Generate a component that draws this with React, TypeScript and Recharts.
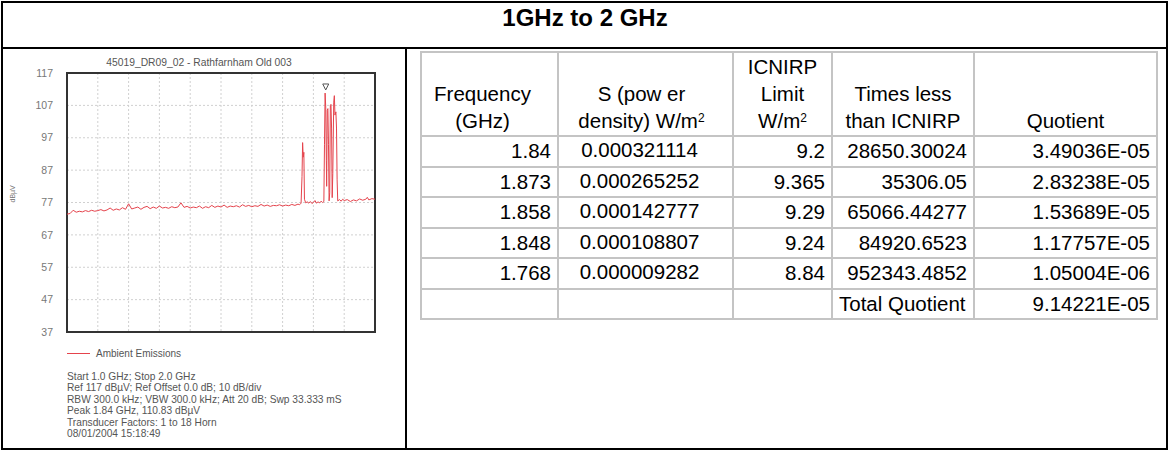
import React from 'react';
import { ComposedChart, Line, Scatter, XAxis, YAxis, CartesianGrid, ReferenceArea, Legend } from 'recharts';

// ---- Spectrum trace (GHz, dBµV) ----
const traceFreq = [
  1.00, 1.01, 1.02, 1.03, 1.04, 1.05, 1.06, 1.07, 1.08, 1.09,
  1.10, 1.11, 1.12, 1.13, 1.14, 1.15, 1.16, 1.17, 1.18, 1.19,
  1.20, 1.21, 1.22, 1.23, 1.24, 1.25, 1.26, 1.27, 1.28, 1.29,
  1.30, 1.31, 1.32, 1.33, 1.34, 1.35, 1.36, 1.37, 1.38, 1.39,
  1.40, 1.41, 1.42, 1.43, 1.44, 1.45, 1.46, 1.47, 1.48, 1.49,
  1.50, 1.51, 1.52, 1.53, 1.54, 1.55, 1.56, 1.57, 1.58, 1.59,
  1.60, 1.61, 1.62, 1.63, 1.64, 1.65, 1.66, 1.67, 1.68, 1.69,
  1.70, 1.71, 1.72, 1.73, 1.74, 1.75, 1.755, 1.76, 1.763, 1.765,
  1.767, 1.769, 1.771, 1.775, 1.78, 1.785, 1.79, 1.795, 1.80, 1.805,
  1.81, 1.815, 1.82, 1.825, 1.83, 1.834, 1.836, 1.838, 1.84, 1.842,
  1.843, 1.845, 1.847, 1.849, 1.851, 1.853, 1.855, 1.857, 1.859, 1.861,
  1.863, 1.866, 1.868, 1.87, 1.873, 1.875, 1.877, 1.879, 1.885, 1.89,
  1.895, 1.90, 1.91, 1.92, 1.93, 1.94, 1.95, 1.96, 1.97, 1.975,
  1.98, 1.99, 2.00,
];
const traceLevel = [
  73.4, 73.6, 74.6, 74.0, 74.3, 74.1, 74.5, 74.2, 74.6, 74.3,
  74.5, 74.8, 74.4, 74.7, 75.3, 74.6, 75.0, 74.7, 75.4, 74.9,
  76.6, 75.0, 75.3, 75.6, 74.9, 75.5, 75.8, 75.1, 75.6, 75.2,
  75.9, 75.3, 75.5, 75.2, 75.7, 75.4, 75.6, 76.9, 75.5, 75.8,
  75.3, 75.6, 75.4, 75.9, 75.2, 75.7, 75.4, 76.1, 75.5, 75.9,
  75.6, 76.2, 75.5, 75.9, 75.7, 76.0, 75.6, 76.3, 75.8, 76.1,
  75.7, 76.0, 75.8, 76.4, 75.9, 76.2, 75.8, 76.1, 76.0, 76.3,
  75.9, 76.2, 76.0, 76.4, 76.1, 76.5, 76.3, 76.8, 85.0, 95.5,
  91.0, 92.5, 78.0, 76.9, 77.2, 76.8, 77.3, 76.7, 77.0, 77.6,
  76.8, 77.2, 76.9, 77.4, 77.0, 77.3, 95.0, 110.8, 106.5, 90.0,
  82.0, 105.5, 106.0, 95.0, 77.5, 80.0, 107.0, 107.3, 100.0, 78.5,
  86.0, 108.0, 110.0, 104.0, 105.0, 100.0, 84.0, 77.5, 77.9, 77.4,
  78.0, 77.6, 77.9, 77.3, 77.8, 77.5, 78.1, 77.7, 78.0, 78.6,
  77.8, 78.2, 78.0,
];
const markerFreq = [1.84];
const markerLevel = [110.83];

const yTicks = [37, 47, 57, 67, 77, 87, 97, 107, 117];
const xGrid = [1.0, 1.1, 1.2, 1.3, 1.4, 1.5, 1.6, 1.7, 1.8, 1.9, 2.0];

const chartTitle = '45019_DR09_02 - Rathfarnham Old 003';
const seriesName = 'Ambient Emissions';
const infoLines = [
  'Start 1.0 GHz; Stop 2.0 GHz',
  'Ref 117 dB\u00b5V; Ref Offset 0.0 dB; 10 dB/div',
  'RBW 300.0 kHz; VBW 300.0 kHz; Att 20 dB; Swp 33.333 mS',
  'Peak 1.84 GHz, 110.83 dB\u00b5V',
  'Transducer Factors: 1 to 18 Horn',
  '08/01/2004 15:18:49',
];

// ---- Table ----
const pageTitle = '1GHz to 2 GHz';
const tableFreq = ['1.84', '1.873', '1.858', '1.848', '1.768'];
const tableS = ['0.000321114', '0.000265252', '0.000142777', '0.000108807', '0.000009282'];
const tableLimit = ['9.2', '9.365', '9.29', '9.24', '8.84'];
const tableTimes = ['28650.30024', '35306.05', '65066.44277', '84920.6523', '952343.4852'];
const tableQuot = ['3.49036E-05', '2.83238E-05', '1.53689E-05', '1.17757E-05', '1.05004E-06'];
const totalLabel = 'Total Quotient';
const totalValue = '9.14221E-05';

const traceData = traceFreq.map((f, i) => ({ f, v: traceLevel[i] }));
const markerData = markerFreq.map((f, i) => ({ f, v: markerLevel[i] }));

const RED = '#e5434c';
const FONT = '"Liberation Sans", Arial, sans-serif';

const Marker = (props: any) => {
  const { cx, cy } = props;
  return (
    <path
      d={`M ${cx - 3} ${cy - 9} L ${cx + 3} ${cy - 9} L ${cx} ${cy - 3} Z`}
      fill="none"
      stroke="#555"
      strokeWidth={1}
    />
  );
};

const LegendContent = () => (
  <div style={{ display: 'flex', alignItems: 'center', fontFamily: FONT, fontSize: 10, color: '#555' }}>
    <span style={{ display: 'inline-block', width: 23, height: 1, background: RED, marginRight: 6 }} />
    <span>{seriesName}</span>
  </div>
);

const cellBorder = '2px solid #c4c4c4';
const colW = [137, 175, 99, 142, 183];
const SUP = { fontSize: 12, verticalAlign: 'top', lineHeight: '22px' } as React.CSSProperties;

export default function App() {
  const tdBase: React.CSSProperties = {
    border: cellBorder,
    padding: '0 6px',
    boxSizing: 'border-box',
    verticalAlign: 'middle',
    whiteSpace: 'nowrap',
    lineHeight: '24px',
  };
  const th: React.CSSProperties = {
    border: cellBorder,
    fontWeight: 'normal',
    textAlign: 'center',
    verticalAlign: 'bottom',
    padding: '0 4px 1px 4px',
    lineHeight: '27px',
    boxSizing: 'border-box',
    whiteSpace: 'nowrap',
  };
  const rowH = 30.5;
  return (
    <div
      style={{
        position: 'absolute',
        left: 0,
        top: 0,
        width: 1170,
        height: 451,
        background: '#fff',
        fontFamily: FONT,
        overflow: 'hidden',
      }}
    >
      {/* outer frame */}
      <div style={{ position: 'absolute', left: 1, top: 1, width: 1167, height: 449, border: '2px solid #000', boxSizing: 'border-box' }} />
      <div style={{ position: 'absolute', left: 1, top: 47, width: 1167, height: 2, background: '#000' }} />
      <div style={{ position: 'absolute', left: 405, top: 47, width: 2, height: 402, background: '#000' }} />

      <div style={{ position: 'absolute', left: 0, top: 5, width: 1170, textAlign: 'center', fontWeight: 'bold', fontSize: 24, lineHeight: '26px', color: '#000' }}>
        {pageTitle}
      </div>

      {/* spectrum chart */}
      <div style={{ position: 'absolute', left: 0, top: 50, width: 405, height: 320 }}>
        <div style={{ position: 'absolute', left: 47, width: 304, top: 7, textAlign: 'center', fontSize: 10.3, color: '#555' }}>
          {chartTitle}
        </div>
        <ComposedChart width={405} height={320} margin={{ top: 23, right: 30, left: 0, bottom: 27 }}>
          <CartesianGrid stroke="#d0d0d0" strokeDasharray="2 2" />
          <XAxis dataKey="f" type="number" domain={[1, 2]} ticks={xGrid} hide allowDataOverflow />
          <YAxis
            type="number"
            domain={[37, 117]}
            ticks={yTicks}
            width={67}
            axisLine={false}
            tickLine={false}
            tickMargin={8}
            tick={{ fill: '#777', fontSize: 10.5, fontFamily: FONT }}
            label={{ value: 'dB\u00b5V', angle: -90, position: 'insideLeft', offset: 13, fill: '#777', fontSize: 7, fontFamily: FONT }}
            allowDataOverflow
          />
          <ReferenceArea x1={1} x2={2} y1={37} y2={117} fill="none" stroke="#333" strokeWidth={2} ifOverflow="visible" />
          <Line
            data={traceData}
            dataKey="v"
            type="linear"
            stroke={RED}
            strokeWidth={1}
            dot={false}
            isAnimationActive={false}
            name={seriesName}
          />
          <Scatter data={markerData} dataKey="v" shape={<Marker />} isAnimationActive={false} legendType="none" />
          <Legend content={<LegendContent />} wrapperStyle={{ left: 67, top: 298, width: 200 }} />
        </ComposedChart>
      </div>

      <div style={{ position: 'absolute', left: 67, top: 371, fontSize: 10.2, lineHeight: '11.4px', color: '#555' }}>
        {infoLines.map((l, i) => (
          <div key={i}>{l}</div>
        ))}
      </div>

      {/* data table */}
      <table
        style={{
          position: 'absolute',
          left: 420,
          top: 51,
          borderCollapse: 'collapse',
          tableLayout: 'fixed',
          width: colW.reduce((a, b) => a + b, 0),
          fontSize: 20.5,
          color: '#000',
          fontFamily: FONT,
        }}
      >
        <colgroup>
          {colW.map((w, i) => (
            <col key={i} style={{ width: w }} />
          ))}
        </colgroup>
        <tbody>
          <tr style={{ height: 84 }}>
            <th style={{ ...th, paddingRight: 18 }}>Frequency<br />(GHz)</th>
            <th style={{ ...th, paddingRight: 12 }}>S (pow er<br />density) W/m<span style={SUP}>2</span></th>
            <th style={th}>ICNIRP<br />Limit<br />W/m<span style={SUP}>2</span></th>
            <th style={th}>Times less<br />than ICNIRP</th>
            <th style={th}>Quotient</th>
          </tr>
          {tableFreq.map((f, i) => (
            <tr key={i} style={{ height: rowH }}>
              <td style={{ ...tdBase, textAlign: 'right' }}>{f}</td>
              <td style={{ ...tdBase, textAlign: 'center', verticalAlign: 'top', paddingTop: 1, paddingRight: 18 }}>{tableS[i]}</td>
              <td style={{ ...tdBase, textAlign: 'right' }}>{tableLimit[i]}</td>
              <td style={{ ...tdBase, textAlign: 'right' }}>{tableTimes[i]}</td>
              <td style={{ ...tdBase, textAlign: 'right' }}>{tableQuot[i]}</td>
            </tr>
          ))}
          <tr style={{ height: rowH }}>
            <td style={tdBase}></td>
            <td style={tdBase}></td>
            <td style={tdBase}></td>
            <td style={{ ...tdBase, textAlign: 'left' }}>{totalLabel}</td>
            <td style={{ ...tdBase, textAlign: 'right' }}>{totalValue}</td>
          </tr>
        </tbody>
      </table>
    </div>
  );
}
